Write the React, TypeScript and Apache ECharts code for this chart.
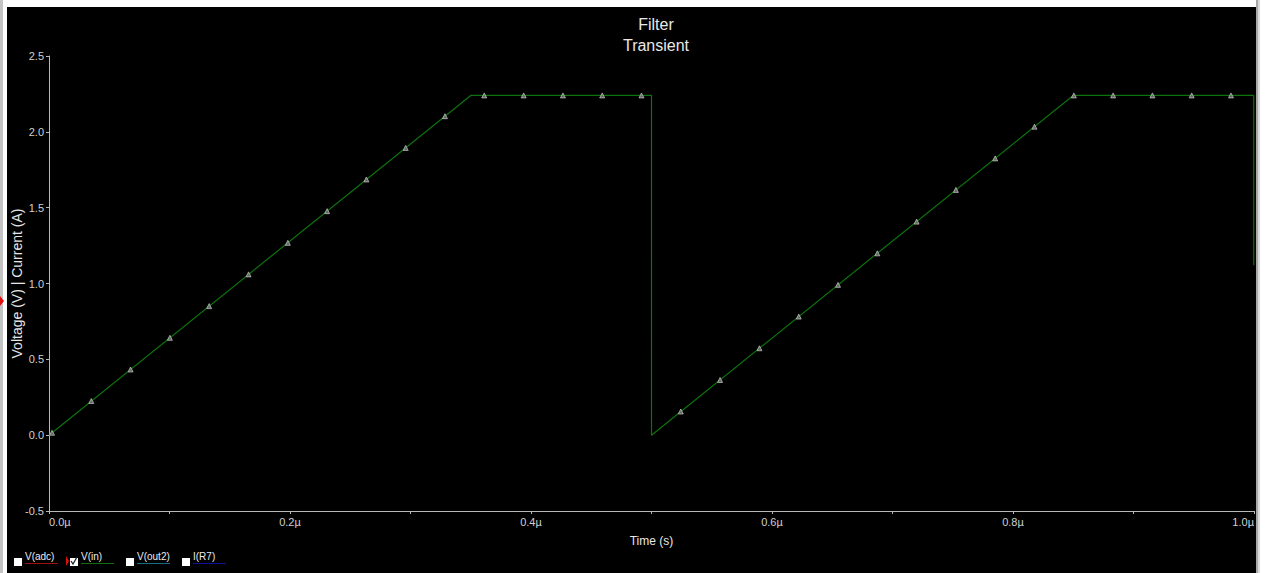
import React, { useEffect, useRef } from "react";
import * as echarts from "echarts";

// Waveform breakpoints (time in µs, value in V)
const waveTimes = [0, 0.35, 0.5, 0.5, 0.85, 0.9998, 0.9998];
const waveValues = [0, 2.24, 2.24, 0, 2.24, 2.24, 1.12];

// Marker (triangle) sample points
const markerTimes = [
  0.0025, 0.0351, 0.0677, 0.1003, 0.1329, 0.1656, 0.1982, 0.2308, 0.2634, 0.296, 0.3286,
  0.3612, 0.3939, 0.4265, 0.4591, 0.4917,
  0.5243, 0.5569, 0.5896, 0.6222, 0.6548, 0.6874, 0.72, 0.7526, 0.7852, 0.8178,
  0.8505, 0.8831, 0.9157, 0.9483, 0.9809,
];
const markerValues = [
  0.016, 0.225, 0.433, 0.642, 0.851, 1.06, 1.268, 1.477, 1.686, 1.894, 2.103,
  2.24, 2.24, 2.24, 2.24, 2.24,
  0.156, 0.364, 0.573, 0.782, 0.991, 1.199, 1.408, 1.617, 1.825, 2.034,
  2.24, 2.24, 2.24, 2.24, 2.24,
];

const legendNames = ["V(adc)", "V(in)", "V(out2)", "I(R7)"];
const legendColors = ["#a01010", "#107010", "#1a6a8a", "#1010a0"];
const legendChecked = [false, true, false, false];

const FONT = 'Arial, "Liberation Sans", sans-serif';

export default function App() {
  const ref = useRef<HTMLDivElement>(null);

  useEffect(() => {
    document.body.style.margin = "0";
    if (!ref.current) return;
    const chart = echarts.init(ref.current, null, { renderer: "svg" });

    const boxX = [14, 70, 126, 182];
    const graphics: any[] = [];
    legendNames.forEach((name, i) => {
      const bx = boxX[i];
      graphics.push({
        type: "rect",
        shape: { x: bx, y: 558, width: 8, height: 8 },
        style: { fill: "#ffffff" },
      });
      if (legendChecked[i]) {
        graphics.push({
          type: "polyline",
          shape: { points: [[bx + 1, 561], [bx + 3, 564], [bx + 7, 557]] },
          style: { stroke: "#222222", lineWidth: 1.3, fill: null },
        });
        graphics.push({
          type: "polygon",
          shape: { points: [[bx - 4, 556], [bx - 1, 561], [bx - 4, 566]] },
          style: { fill: "#e01010" },
        });
      }
      graphics.push({
        type: "text",
        x: bx + 11,
        y: 551,
        style: { text: name, fill: "#ececec", font: `10px ${FONT}` },
      });
      graphics.push({
        type: "line",
        shape: { x1: bx + 11, y1: 563.5, x2: bx + 44, y2: 563.5 },
        style: { stroke: legendColors[i], lineWidth: 1 },
      });
    });
    graphics.push({
      type: "polygon",
      shape: { points: [[0, 296], [4, 301], [0, 306]] },
      style: { fill: "#e01010" },
    });

    chart.setOption({
      animation: false,
      backgroundColor: "transparent",
      title: {
        text: "Filter\nTransient",
        left: 651,
        top: 9,
        textAlign: "center",
        textStyle: {
          color: "#e8e8e8",
          fontSize: 16,
          fontWeight: "normal",
          fontFamily: FONT,
          lineHeight: 21,
        },
      },
      grid: { left: 49, right: 11, top: 56, bottom: 62, containLabel: false, outerBoundsMode: "none" },
      xAxis: {
        type: "value",
        min: 0,
        max: 1,
        interval: 0.1,
        name: "Time (s)",
        nameLocation: "middle",
        nameGap: 24,
        nameMoveOverlap: false,
        nameTextStyle: { color: "#e6e6e6", fontSize: 12, fontFamily: FONT },
        axisLine: { onZero: false, lineStyle: { color: "#b8b8b8", width: 1 } },
        axisTick: { show: true, length: 3, lineStyle: { color: "#b8b8b8" } },
        splitLine: { show: false },
        axisLabel: {
          color: "#d0d0d0",
          fontSize: 11,
          fontFamily: FONT,
          margin: 5,
          alignMinLabel: "left",
          alignMaxLabel: "right",
          formatter: (v: number) => {
            const k = Math.round(v * 10);
            return k % 2 === 0 ? (k / 10).toFixed(1) + "µ" : "";
          },
        },
      },
      yAxis: {
        type: "value",
        min: -0.5,
        max: 2.5,
        interval: 0.5,
        name: "Voltage (V) | Current (A)",
        nameLocation: "middle",
        nameGap: 25,
        nameMoveOverlap: false,
        nameTextStyle: { color: "#e6e6e6", fontSize: 14, fontFamily: FONT },
        axisLine: { show: true, onZero: false, lineStyle: { color: "#b8b8b8", width: 1 } },
        axisTick: { show: true, length: 3, lineStyle: { color: "#b8b8b8" } },
        splitLine: { show: false },
        axisLabel: {
          color: "#d0d0d0",
          fontSize: 11,
          fontFamily: FONT,
          margin: 5,
          formatter: (v: number) => v.toFixed(1),
        },
      },
      graphic: graphics,
      series: [
        {
          type: "line",
          data: waveTimes.map((t, i) => [t, waveValues[i]]),
          showSymbol: false,
          symbol: "none",
          lineStyle: { color: "#0c720c", width: 1.2 },
          z: 2,
        },
        {
          type: "scatter",
          data: markerTimes.map((t, i) => [t, markerValues[i]]),
          symbol: "triangle",
          symbolSize: 5,
          itemStyle: { color: "#7a7a7a", borderColor: "#d8d8d8", borderWidth: 0.8 },
          z: 3,
        },
      ],
    });

    return () => chart.dispose();
  }, []);

  return (
    <div style={{ position: "relative", width: 1265, height: 573, background: "#ffffff", overflow: "hidden" }}>
      <div style={{ position: "absolute", left: 0, top: 0, width: 3, height: 573, background: "#c4c4c4" }} />
      <div style={{ position: "absolute", left: 7, top: 7, width: 1249, height: 566, background: "#000000" }} />
      <div style={{ position: "absolute", left: 1256, top: 0, width: 2, height: 573, background: "#a8a8a8" }} />
      <div style={{ position: "absolute", left: 1258, top: 0, width: 2, height: 573, background: "#dadada" }} />
      <div ref={ref} style={{ position: "absolute", left: 0, top: 0, width: 1265, height: 573 }} />
    </div>
  );
}
